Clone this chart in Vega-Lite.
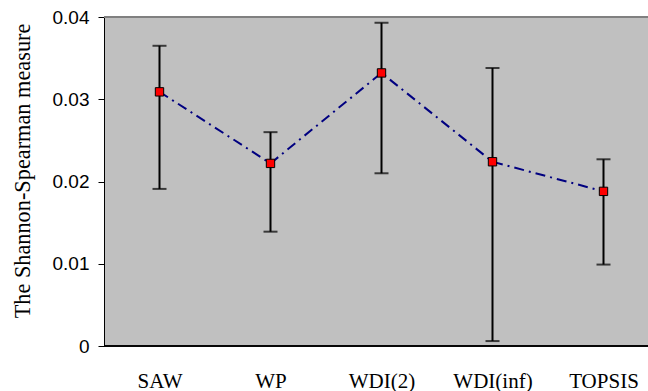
{
  "$schema": "https://vega.github.io/schema/vega-lite/v6.json",
  "width": 544,
  "height": 329,
  "autosize": {"type": "none"},
  "padding": {"left": 104, "top": 17, "right": 0, "bottom": 45},
  "background": "white",
  "config": {
    "view": {"fill": "#C0C0C0", "stroke": null},
    "axis": {"grid": false}
  },
  "data": {
    "values": [
      {"method": "SAW", "mean": 0.0309, "lo": 0.0191, "hi": 0.0365},
      {"method": "WP", "mean": 0.0222, "lo": 0.0139, "hi": 0.0260},
      {"method": "WDI(2)", "mean": 0.0332, "lo": 0.0210, "hi": 0.0393},
      {"method": "WDI(inf)", "mean": 0.0224, "lo": 0.0006, "hi": 0.0338},
      {"method": "TOPSIS", "mean": 0.0188, "lo": 0.0099, "hi": 0.0227}
    ]
  },
  "encoding": {
    "x": {
      "field": "method",
      "type": "nominal",
      "sort": null,
      "scale": {"type": "point", "range": [55.5, 499.5], "padding": 0},
      "axis": {
        "title": null,
        "labelAngle": 0,
        "ticks": false,
        "domain": false,
        "labelPadding": 24,
        "labelFont": "'Liberation Serif', 'Times New Roman', Times, serif",
        "labelFontSize": 21,
        "labelColor": "black"
      }
    }
  },
  "layer": [
    {
      "mark": {"type": "rule", "color": "#808080", "strokeWidth": 1.5},
      "encoding": {"x": null, "y": {"datum": 0.04, "type": "quantitative"}}
    },
    {
      "mark": {"type": "rule", "color": "black", "strokeWidth": 1},
      "encoding": {"x": null, "y": {"datum": 0, "type": "quantitative"}}
    },
    {
      "mark": {"type": "rule", "color": "black", "strokeWidth": 2},
      "encoding": {
        "y": {
          "field": "lo",
          "type": "quantitative",
          "scale": {"domain": [0, 0.04], "nice": false},
          "axis": {
            "title": "The Shannon-Spearman measure",
            "titleFont": "'Liberation Serif', 'Times New Roman', Times, serif",
            "titleFontSize": 22.3,
            "titleFontWeight": "normal",
            "titleColor": "black",
            "titleX": -75,
            "titleY": 153.5,
            "titleBaseline": "alphabetic",
            "titleAlign": "center",
            "values": [0, 0.01, 0.02, 0.03, 0.04],
            "format": "~g",
            "labelFont": "'Liberation Sans', Arial, sans-serif",
            "labelFontSize": 19,
            "labelColor": "black",
            "labelPadding": 9,
            "tickSize": 6,
            "tickColor": "black",
            "domainColor": "black",
            "domainWidth": 1
          }
        },
        "y2": {"field": "hi"}
      }
    },
    {
      "mark": {"type": "tick", "color": "black", "size": 14, "thickness": 2, "orient": "horizontal"},
      "encoding": {"y": {"field": "lo", "type": "quantitative"}}
    },
    {
      "mark": {"type": "tick", "color": "black", "size": 14, "thickness": 2, "orient": "horizontal"},
      "encoding": {"y": {"field": "hi", "type": "quantitative"}}
    },
    {
      "mark": {"type": "line", "color": "#000080", "strokeWidth": 2, "strokeDash": [10, 5, 2, 5]},
      "encoding": {"y": {"field": "mean", "type": "quantitative"}}
    },
    {
      "mark": {"type": "point", "shape": "square", "filled": true, "fill": "#FF0000", "stroke": "black", "strokeWidth": 1, "size": 70, "opacity": 1},
      "encoding": {"y": {"field": "mean", "type": "quantitative"}}
    }
  ]
}
